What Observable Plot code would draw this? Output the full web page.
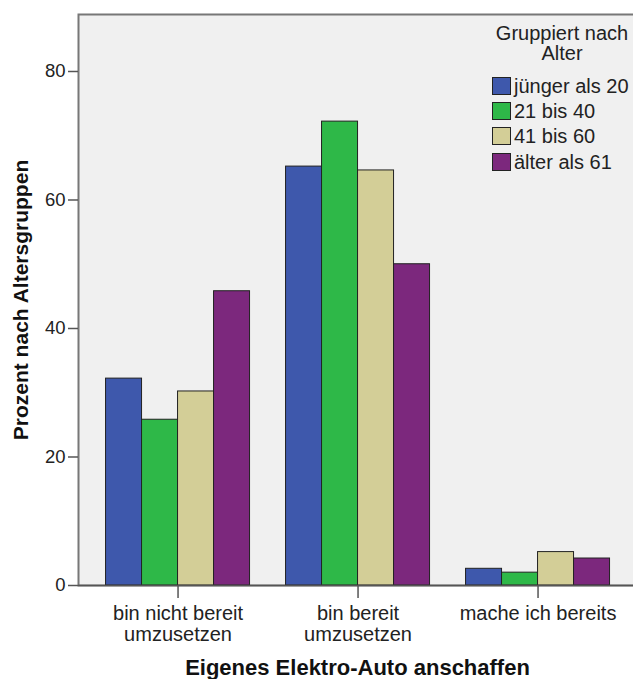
<!DOCTYPE html>
<html><head><meta charset="utf-8">
<script src="https://cdn.jsdelivr.net/npm/d3@7"></script>
<script src="https://cdn.jsdelivr.net/npm/@observablehq/plot@0.6"></script>
<style>
body{margin:0;background:#fff;font-family:"Liberation Sans",Arial,sans-serif;overflow:hidden;}
#wrap{position:relative;width:633px;height:679px;overflow:hidden;}
#wrap svg{max-width:none !important;}
#legend{position:absolute;left:491px;top:23px;width:150px;font-size:20px;color:#222;line-height:1;}
#legend .title{text-align:center;width:142px;line-height:20px;margin-bottom:10px;}
#legend .row{display:flex;align-items:center;height:25.3px;}
#legend .sw{width:17px;height:16px;border:1px solid #222;margin-left:1px;margin-right:3px;box-sizing:content-box;}
</style></head>
<body><div id="wrap"></div>
<script>
const groups = ["bin nicht bereit\numzusetzen", "bin bereit\numzusetzen", "mache ich bereits"];
const ages = ["jünger als 20", "21 bis 40", "41 bis 60", "älter als 61"];
const colors = ["#3e58ac", "#2eb848", "#d3ce97", "#7c287d"];
const juengerAls20 = [32.2, 65.2, 2.6];
const bis40 = [25.8, 72.2, 2.0];
const bis60 = [30.2, 64.6, 5.2];
const aelterAls61 = [45.8, 50.0, 4.2];
const yTicks = [0, 20, 40, 60, 80];
const legendTitle = "Gruppiert nach<br>Alter";
const xTitle = "Eigenes Elektro-Auto anschaffen";
const yTitle = "Prozent nach Altersgruppen";

const series = [juengerAls20, bis40, bis60, aelterAls61];
const barW = 0.2;
const rows = [];
series.forEach((vals, si) => vals.forEach((v, gi) => {
  const x1 = gi + (si - 2) * barW;
  rows.push({age: ages[si], gi, x1, x2: x1 + barW, value: v});
}));

const font = '"Liberation Sans", Arial, sans-serif';
const chart = Plot.plot({
  width: 636, height: 679,
  marginLeft: 78, marginRight: 0, marginTop: 14, marginBottom: 94,
  style: {fontFamily: font, fontSize: "18px", color: "#222", background: "#fff"},
  x: {domain: [-0.553, 2.547]},
  y: {domain: [0, 88.87]},
  color: {domain: ages, range: colors},
  marks: [
    Plot.frame({fill: "#f0f0f0", stroke: "#777", strokeWidth: 2}),
    Plot.rectY(rows, {x1: "x1", x2: "x2", y: "value", fill: "age", stroke: "#222", strokeWidth: 1}),
    Plot.ruleY([0], {stroke: "#555", strokeWidth: 1.5}),
    Plot.axisY({ticks: yTicks, tickSize: 10, tickPadding: 3, stroke: "#555", strokeWidth: 1.5, label: null, fontSize: 18.5}),
    Plot.axisX({ticks: [0, 1, 2], tickFormat: i => groups[i], tickSize: 13, tickPadding: 7, stroke: "#555", strokeWidth: 1.5, label: null, fontSize: 20, lineHeight: 1.05}),
    Plot.text([xTitle], {text: d => d, frameAnchor: "bottom", dy: 89, fontSize: 22, fontWeight: "bold", fill: "#111"}),
    Plot.text([yTitle], {text: d => d, frameAnchor: "left", textAnchor: "middle", dx: -57, rotate: -90, fontSize: 21, fontWeight: "bold", fill: "#111"})
  ]
});
const wrap = document.getElementById("wrap");
wrap.appendChild(chart);

const legend = document.createElement("div");
legend.id = "legend";
legend.innerHTML = `<div class="title">${legendTitle}</div>` +
  ages.map((a, i) => `<div class="row"><span class="sw" style="background:${colors[i]}"></span><span>${a}</span></div>`).join("");
wrap.appendChild(legend);
</script></body></html>
